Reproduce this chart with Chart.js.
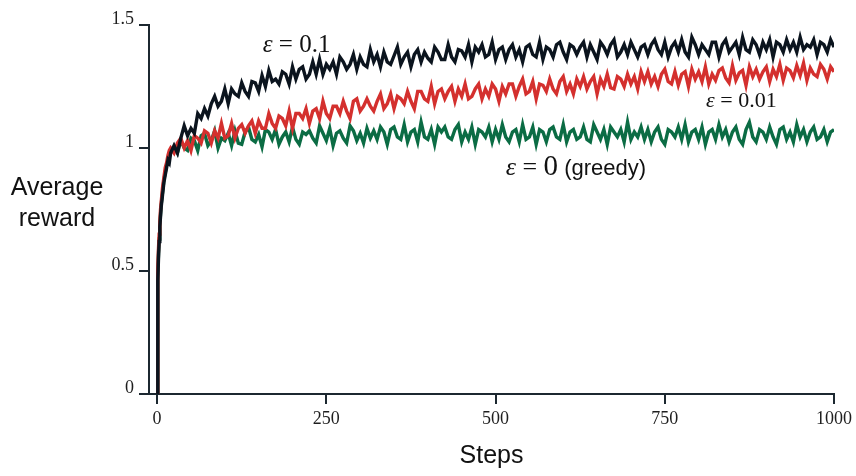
<!DOCTYPE html>
<html><head><meta charset="utf-8">
<script src="https://cdn.jsdelivr.net/npm/chart.js@4/dist/chart.umd.min.js"></script>
<style>html,body{margin:0;padding:0;background:#fff}#c{display:block}</style>
</head><body>
<canvas id="c" width="856" height="476"></canvas>
<script>
// ---------- data ----------
const steps = [0,1,2,3,4,5,6,8,10,12,14,16,18,20,
25,30,35,40,45,50,55,60,65,70,75,80,85,90,95,100,105,110,115,120,
125,130,135,140,145,150,155,160,165,170,175,180,185,190,195,200,205,210,215,220,
225,230,235,240,245,250,255,260,265,270,275,280,285,290,295,300,305,310,315,320,
325,330,335,340,345,350,355,360,365,370,375,380,385,390,395,400,405,410,415,420,
425,430,435,440,445,450,455,460,465,470,475,480,485,490,495,500,505,510,515,520,
525,530,535,540,545,550,555,560,565,570,575,580,585,590,595,600,605,610,615,620,
625,630,635,640,645,650,655,660,665,670,675,680,685,690,695,700,705,710,715,720,
725,730,735,740,745,750,755,760,765,770,775,780,785,790,795,800,805,810,815,820,
825,830,835,840,845,850,855,860,865,870,875,880,885,890,895,900,905,910,915,920,
925,930,935,940,945,950,955,960,965,970,975,980,985,990,995,1000];

const eps01 = [0,0.46,0.55,0.62,0.68,0.72,0.76,0.81,0.86,0.89,0.92,0.95,0.94,0.98,
1.01,0.98,1.04,1.09,1.05,1.08,1.06,1.14,1.12,1.16,1.13,1.18,1.21,1.17,1.19,1.24,1.18,1.24,1.22,1.21,
1.265,1.23,1.21,1.27,1.265,1.23,1.295,1.25,1.315,1.27,1.28,1.26,1.31,1.30,1.26,1.33,1.28,1.32,1.33,1.28,
1.30,1.35,1.30,1.36,1.30,1.34,1.32,1.35,1.30,1.37,1.35,1.32,1.34,1.38,1.32,1.37,1.34,1.33,1.40,1.35,
1.38,1.33,1.39,1.35,1.34,1.375,1.41,1.34,1.37,1.39,1.33,1.38,1.40,1.35,1.39,1.365,1.35,1.41,1.39,1.36,
1.36,1.42,1.37,1.35,1.40,1.395,1.37,1.42,1.35,1.41,1.39,1.42,1.37,1.38,1.43,1.36,1.40,1.41,1.36,1.40,
1.42,1.37,1.40,1.35,1.41,1.42,1.38,1.37,1.43,1.36,1.41,1.40,1.37,1.42,1.43,1.39,1.36,1.42,1.41,1.38,
1.41,1.43,1.37,1.42,1.39,1.36,1.43,1.41,1.38,1.42,1.44,1.37,1.39,1.42,1.38,1.43,1.40,1.37,1.41,1.42,
1.38,1.42,1.44,1.40,1.38,1.43,1.37,1.41,1.43,1.39,1.44,1.39,1.37,1.45,1.42,1.38,1.42,1.40,1.38,1.43,
1.43,1.37,1.42,1.44,1.39,1.41,1.43,1.38,1.45,1.40,1.39,1.44,1.42,1.38,1.43,1.40,1.44,1.37,1.43,1.42,
1.39,1.44,1.40,1.43,1.39,1.45,1.40,1.42,1.41,1.44,1.38,1.43,1.42,1.39,1.44,1.41];

const eps001 = [0,0.51,0.59,0.65,0.70,0.75,0.78,0.84,0.88,0.92,0.94,0.97,0.99,1.00,
0.98,1.02,1.04,1.00,1.03,0.99,1.05,1.04,1.02,1.07,1.06,1.02,1.07,1.04,1.10,1.04,1.05,1.10,1.04,1.08,
1.095,1.06,1.09,1.11,1.06,1.11,1.08,1.08,1.14,1.10,1.08,1.13,1.12,1.09,1.15,1.08,1.14,1.14,1.12,1.16,
1.10,1.15,1.16,1.12,1.19,1.14,1.12,1.17,1.17,1.14,1.19,1.15,1.12,1.19,1.20,1.15,1.17,1.20,1.17,1.15,
1.19,1.22,1.16,1.18,1.22,1.16,1.21,1.20,1.18,1.23,1.19,1.16,1.23,1.23,1.20,1.19,1.25,1.18,1.23,1.24,
1.20,1.23,1.25,1.19,1.24,1.21,1.26,1.20,1.21,1.24,1.26,1.20,1.24,1.21,1.26,1.24,1.19,1.25,1.22,1.26,
1.26,1.21,1.25,1.28,1.22,1.23,1.27,1.20,1.26,1.255,1.23,1.28,1.24,1.22,1.27,1.29,1.23,1.26,1.22,1.28,
1.25,1.29,1.24,1.27,1.29,1.22,1.28,1.25,1.30,1.245,1.24,1.29,1.28,1.25,1.30,1.26,1.29,1.24,1.31,1.27,
1.31,1.26,1.29,1.25,1.30,1.32,1.27,1.26,1.31,1.255,1.30,1.31,1.25,1.32,1.28,1.31,1.27,1.33,1.26,1.30,
1.275,1.315,1.325,1.285,1.265,1.335,1.275,1.305,1.315,1.255,1.33,1.29,1.32,1.28,1.31,1.33,1.27,1.32,1.29,1.34,
1.275,1.325,1.315,1.285,1.335,1.295,1.345,1.275,1.325,1.30,1.29,1.34,1.32,1.28,1.33,1.31];

const eps0 = [0,0.48,0.57,0.63,0.69,0.73,0.77,0.82,0.87,0.90,0.93,0.95,0.97,0.98,
1.00,0.98,1.03,1.00,0.99,1.04,1.03,0.99,1.05,1.06,1.01,1.03,1.07,1.00,1.04,1.03,1.06,1.01,1.07,1.02,
1.015,1.065,1.085,1.035,1.025,1.055,1.005,1.075,1.065,1.035,1.075,1.015,1.045,1.065,1.025,1.085,1.035,1.015,1.065,1.055,
1.07,1.04,1.02,1.09,1.06,1.03,1.08,1.01,1.06,1.07,1.04,1.02,1.09,1.07,1.03,1.06,1.02,1.08,1.04,1.07,
1.035,1.085,1.065,1.015,1.075,1.085,1.045,1.035,1.095,1.025,1.065,1.075,1.025,1.105,1.045,1.035,1.075,1.015,1.085,1.065,
1.085,1.045,1.035,1.075,1.095,1.025,1.065,1.035,1.085,1.015,1.075,1.065,1.045,1.085,1.025,1.075,1.035,1.095,1.045,1.025,
1.065,1.075,1.025,1.095,1.035,1.045,1.085,1.015,1.075,1.065,1.025,1.075,1.085,1.045,1.035,1.095,1.025,1.065,1.075,1.035,
1.045,1.085,1.035,1.025,1.095,1.065,1.035,1.075,1.015,1.085,1.065,1.045,1.075,1.025,1.105,1.035,1.065,1.045,1.085,1.035,
1.075,1.025,1.065,1.085,1.035,1.015,1.075,1.065,1.045,1.085,1.035,1.095,1.025,1.065,1.075,1.035,1.085,1.015,1.065,1.075,
1.035,1.095,1.045,1.075,1.025,1.065,1.085,1.035,1.015,1.075,1.105,1.045,1.025,1.075,1.065,1.035,1.085,1.045,1.015,1.075,
1.085,1.035,1.065,1.025,1.095,1.045,1.075,1.025,1.065,1.085,1.035,1.045,1.075,1.025,1.065,1.075];

const seriesNames = ['ε = 0.1', 'ε = 0.01', 'ε = 0 (greedy)'];
const xTicks = [0, 250, 500, 750, 1000];
const yTicks = [0, 0.5, 1, 1.5];
const yTickLabels = ['0', '0.5', '1', '1.5'];
const xTitle = 'Steps';
const yTitle = ['Average', 'reward'];

// ---------- styling ----------
const AXIS = '#1c2830';
const COLORS = ['#0b141e', '#d4302e', '#0b6c44'];
const SERIF = '"Liberation Serif", "Times New Roman", serif';
const SANS = '"Liberation Sans", Arial, sans-serif';

function pts(vals) {
  const out = [];
  for (let i = 0; i < steps.length && i < vals.length; i++) out.push({x: steps[i], y: vals[i]});
  return out;
}

const annot = {
  id: 'annot',
  afterDraw(chart) {
    const {ctx, chartArea: a, scales: {x, y}} = chart;
    ctx.save();
    ctx.strokeStyle = AXIS; ctx.lineWidth = 2;
    ctx.beginPath(); ctx.moveTo(a.left - 10, a.bottom); ctx.lineTo(a.left, a.bottom); ctx.stroke();
    ctx.fillStyle = '#111';
    ctx.font = '25px ' + SANS;
    ctx.textAlign = 'center'; ctx.textBaseline = 'alphabetic';
    ctx.fillText(yTitle[0], 57, 195);
    ctx.fillText(yTitle[1], 57, 226);
    const drawParts = (px, py, parts) => {
      ctx.textAlign = 'left';
      let cx = px;
      for (const p of parts) { ctx.font = p.f; ctx.fillText(p.t, cx, py); cx += ctx.measureText(p.t).width; }
    };
    drawParts(x.getPixelForValue(156), y.getPixelForValue(1.39), [
      {t: 'ε', f: 'italic 25px ' + SERIF}, {t: ' = 0.1', f: '25px ' + SERIF}]);
    drawParts(x.getPixelForValue(811), y.getPixelForValue(1.167), [
      {t: 'ε', f: 'italic 22px ' + SERIF}, {t: ' = 0.01', f: '22px ' + SERIF}]);
    drawParts(x.getPixelForValue(515), y.getPixelForValue(0.89), [
      {t: 'ε', f: 'italic 26px ' + SERIF}, {t: ' = ', f: '26px ' + SERIF},
      {t: '0', f: '29px ' + SERIF}, {t: ' (greedy)', f: '22px ' + SANS}]);
    ctx.restore();
  }
};

new Chart(document.getElementById('c'), {
  type: 'line',
  data: {
    datasets: [
      {label: seriesNames[0], data: pts(eps01), borderColor: COLORS[0]},
      {label: seriesNames[1], data: pts(eps001), borderColor: COLORS[1]},
      {label: seriesNames[2], data: pts(eps0), borderColor: COLORS[2]}
    ]
  },
  options: {
    responsive: false, animation: false, devicePixelRatio: 1,
    layout: {padding: {left: 0, right: 20, top: 25, bottom: 0}},
    plugins: {legend: {display: false}, tooltip: {enabled: false}},
    elements: {point: {radius: 0}, line: {tension: 0, borderWidth: 3.4, borderJoinStyle: 'miter', fill: false}},
    scales: {
      x: {
        type: 'linear', min: -12, max: 1000,
        afterBuildTicks: s => { s.ticks = xTicks.map(v => ({value: v})); },
        afterFit: s => { s.height = 82; },
        ticks: {font: {family: SERIF, size: 18}, color: '#1e1e1e', padding: 4, maxRotation: 0, autoSkip: false,
                callback: v => String(v)},
        grid: {display: true, drawOnChartArea: false, drawTicks: true, tickLength: 10, color: AXIS, lineWidth: 2},
        border: {display: true, color: AXIS, width: 2},
        title: {display: true, text: xTitle, font: {family: SANS, size: 25}, color: '#111', padding: {top: 0, bottom: 5}}
      },
      y: {
        type: 'linear', min: 0, max: 1.5,
        afterBuildTicks: s => { s.ticks = yTicks.map(v => ({value: v})); },
        afterFit: s => { s.width = 149; },
        ticks: {font: {family: SERIF, size: 18}, color: '#1e1e1e', padding: 5, labelOffset: -6, autoSkip: false,
                callback: v => yTickLabels[yTicks.indexOf(v)]},
        grid: {display: true, drawOnChartArea: false, drawTicks: true, tickLength: 10, color: AXIS, lineWidth: 2},
        border: {display: true, color: AXIS, width: 2}
      }
    }
  },
  plugins: [annot]
});
</script>
</body></html>
